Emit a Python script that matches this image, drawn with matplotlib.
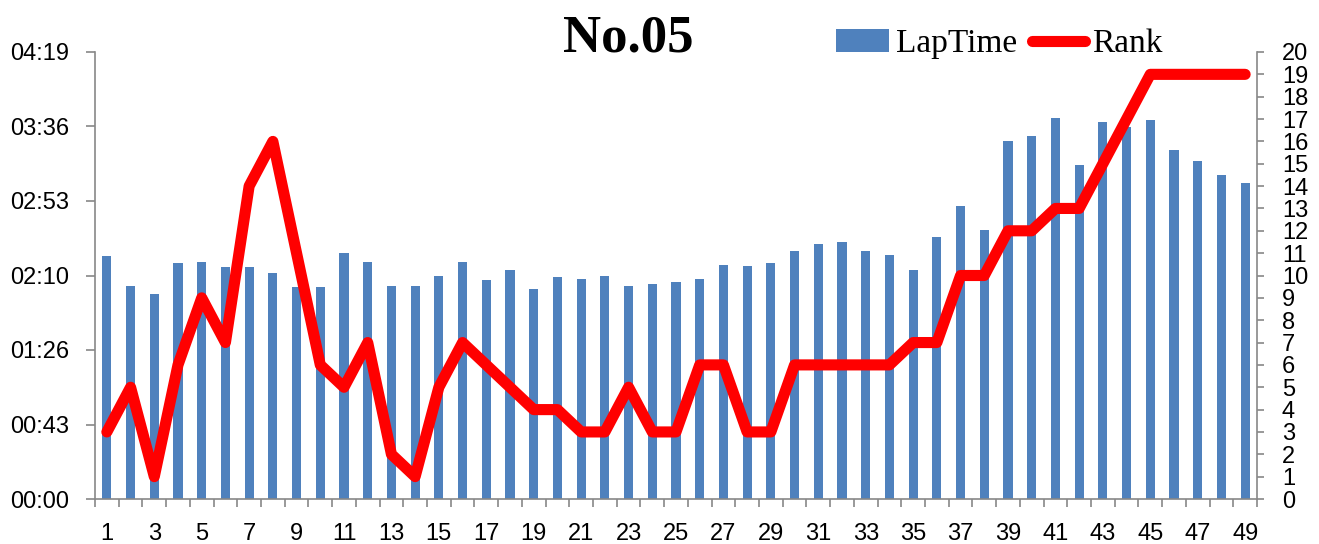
import matplotlib
matplotlib.use("Agg")
import matplotlib.pyplot as plt
from matplotlib.ticker import FuncFormatter, FixedLocator
import numpy as np

laps = list(range(1, 50))
lap_seconds = [140.9, 123.7, 118.7, 136.7, 137.6, 134.7, 134.7, 130.9, 122.7, 122.7,
               142.5, 137.6, 123.7, 123.7, 129.5, 137.6, 126.8, 132.6, 121.8, 128.5,
               127.6, 129.5, 123.7, 124.7, 125.8, 127.6, 135.7, 134.9, 136.7, 143.8,
               147.9, 148.8, 143.6, 141.5, 132.6, 151.7, 169.7, 155.8, 207.8, 210.5,
               220.7, 193.5, 218.6, 215.7, 219.6, 202.6, 195.8, 187.7, 183.2]
ranks = [3, 5, 1, 6, 9, 7, 14, 16, 11, 6, 5, 7, 2, 1, 5, 7, 6, 5, 4, 4,
         3, 3, 5, 3, 3, 6, 6, 3, 3, 6, 6, 6, 6, 6, 7, 7, 10, 10, 12, 12,
         13, 13, 15, 17, 19, 19, 19, 19, 19]
title = "No.05"
left_ticks = [0, 43.2, 86.4, 129.6, 172.8, 216.0, 259.2]

fig = plt.figure(figsize=(13.19, 5.44), dpi=100)
ax = fig.add_axes([95/1319, (544-499)/544, (1257-95)/1319, (499-52)/544])
ax2 = ax.twinx()

ax.bar(laps, lap_seconds, width=0.38, color="#4F81BD", label="LapTime", zorder=2)
ax2.plot(laps, ranks, color="#FF0000", lw=8, solid_capstyle="round",
         solid_joinstyle="round", label="Rank", zorder=3)

ax.set_xlim(0.5, 49.5)
ax.set_ylim(0, 259.2)
ax2.set_ylim(0, 20)

def fmt(v, pos):
    s = int(round(v))
    return f"{s//60:02d}:{s%60:02d}"

ax.yaxis.set_major_locator(FixedLocator(left_ticks))
ax.yaxis.set_major_formatter(FuncFormatter(fmt))
ax2.set_yticks(range(0, 21))

ax.set_xticks(laps[::2])
ax.set_xticks(np.arange(0.5, 50, 1), minor=True)
ax.tick_params(axis="x", which="major", length=0, pad=17)
ax.tick_params(axis="x", which="minor", length=6, width=1.2, color="#888888", direction="out")
ax.tick_params(axis="y", length=6.5, width=1.2, color="#888888", pad=12)
ax2.tick_params(axis="y", length=5, width=1.2, color="#888888", pad=13)

for lab in ax.get_xticklabels() + ax.get_yticklabels() + ax2.get_yticklabels():
    lab.set_fontfamily("Liberation Sans")
    lab.set_fontsize(17)

for a in (ax, ax2):
    a.spines["top"].set_visible(False)
    for s in ("left", "right", "bottom"):
        a.spines[s].set_color("#888888")
        a.spines[s].set_linewidth(1.2)
ax.spines["right"].set_visible(False)
ax2.spines["left"].set_visible(False)
ax2.spines["bottom"].set_visible(False)

fig.text(628/1319, 1 - 38/544, title, ha="center", va="center",
         fontfamily="Liberation Serif", fontweight="bold", fontsize=38)

h1, l1 = ax.get_legend_handles_labels()
h2, l2 = ax2.get_legend_handles_labels()
leg = fig.legend(h1 + h2, l1 + l2, loc="center", bbox_to_anchor=(999/1319, 1 - 44/544),
                 ncol=2, frameon=False, prop=dict(family="Liberation Serif", size=24),
                 handlelength=1.6, handletextpad=0.2, columnspacing=0.45,
                 borderpad=0, borderaxespad=0)

fig.savefig("out.png", dpi=100)
